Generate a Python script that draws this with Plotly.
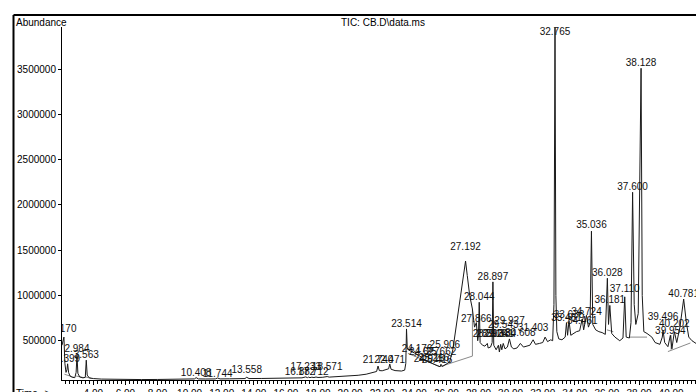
import plotly.graph_objects as go

# ---- chromatogram trace (retention time in min, abundance) ----
rt = [2.05, 2.17, 2.23, 2.30, 2.36, 2.40, 2.46, 2.55, 2.70, 2.85, 2.93, 2.984, 3.04, 3.15, 3.35, 3.50,
      3.563, 3.62, 3.75, 4.0, 4.5, 5.0, 6.0, 7.0, 8.0, 9.0, 10.0, 10.3, 10.408, 10.55, 11.0, 11.6,
      11.744, 11.9, 12.5, 13.0, 13.45, 13.558, 13.7, 14.5, 15.5, 16.5, 16.88, 17.0, 17.23, 17.35,
      17.41, 17.5, 17.615, 17.75, 17.874, 18.0, 18.3, 18.571, 18.7, 19.5, 20.0, 20.5, 21.0, 21.5,
      21.65, 21.74, 21.82, 22.0, 22.3, 22.40, 22.471, 22.55, 22.8, 23.0, 23.2, 23.4, 23.47, 23.514,
      23.56, 23.62, 23.8, 24.0, 24.17, 24.3, 24.47, 24.6, 24.85, 25.0, 25.2, 25.42, 25.6, 25.66,
      25.75, 25.906, 26.0, 26.2, 26.4, 26.6, 26.8, 27.0, 27.192, 27.3, 27.45, 27.62, 27.75, 27.866,
      27.95, 28.0, 28.044, 28.1, 28.25, 28.4, 28.55, 28.6, 28.75, 28.85, 28.897, 28.95, 29.1, 29.24,
      29.3, 29.38, 29.45, 29.54, 29.65, 29.8, 29.927, 30.05, 30.2, 30.4, 30.608, 30.8, 31.0, 31.2,
      31.403, 31.55, 31.8, 32.0, 32.15, 32.3, 32.5, 32.62, 32.70, 32.765, 32.82, 32.88, 33.0, 33.2,
      33.4, 33.481, 33.55, 33.638, 33.75, 33.9, 34.1, 34.3, 34.461, 34.55, 34.724, 34.85, 34.95,
      35.036, 35.12, 35.3, 35.5, 35.7, 35.9, 36.028, 36.1, 36.181, 36.3, 36.5, 36.8, 37.0, 37.110,
      37.2, 37.4, 37.5, 37.600, 37.7, 37.8, 37.95, 38.128, 38.2, 38.3, 38.5, 38.8, 39.0, 39.3, 39.45,
      39.496, 39.6, 39.8, 39.954, 40.05, 40.202, 40.35, 40.55, 40.781, 40.95, 41.1, 41.3, 41.55]
abundance = [450000, 540000, 250000, 150000, 180000, 245000, 150000, 110000, 95000, 92000, 150000,
             340000, 140000, 100000, 90000, 95000, 285000, 120000, 90000, 82000, 76000, 74000,
             72000, 71000, 72000, 74000, 76000, 78000, 92000, 78000, 77000, 78000, 88000, 78000,
             79000, 80000, 82000, 96000, 82000, 83000, 86000, 88000, 95000, 90000, 100000, 92000,
             98000, 92000, 97000, 93000, 99000, 94000, 96000, 104000, 98000, 105000, 110000, 118000,
             130000, 150000, 160000, 220000, 170000, 168000, 180000, 190000, 243000, 185000, 170000,
             165000, 165000, 175000, 250000, 630000, 420000, 400000, 380000, 365000, 350000, 335000,
             315000, 290000, 270000, 255000, 235000, 225000, 213000, 240000, 215000, 235000, 240000,
             265000, 400000, 650000, 900000, 1150000, 1380000, 1220000, 1000000, 850000, 650000,
             700000, 500000, 560000, 925000, 480000, 450000, 440000, 470000, 420000, 430000, 480000,
             1150000, 450000, 400000, 450000, 375000, 460000, 400000, 470000, 410000, 430000, 520000,
             430000, 410000, 420000, 470000, 430000, 440000, 450000, 510000, 460000, 470000, 480000,
             540000, 490000, 510000, 500000, 900000, 3960000, 1000000, 600000, 520000, 510000, 540000,
             700000, 560000, 720000, 560000, 580000, 600000, 610000, 740000, 620000, 780000, 650000,
             700000, 1710000, 680000, 620000, 600000, 590000, 570000, 1190000, 680000, 890000, 580000,
             540000, 500000, 530000, 985000, 540000, 530000, 700000, 2140000, 900000, 680000, 800000,
             3510000, 1000000, 600000, 580000, 540000, 480000, 460000, 540000, 615000, 480000,
             434000, 560000, 410000, 600000, 480000, 650000, 960000, 700000, 540000, 500000, 470000]

# ---- integration baseline segments (start rt, start abundance, end rt, end abundance) ----
seg_rt0 = [2.20, 2.93, 3.52, 25.60, 27.62, 23.60, 36.00, 37.40, 39.80, 40.00]
seg_ab0 = [130000, 110000, 100000, 213000, 330000, 360000, 620000, 540000, 380000, 400000]
seg_rt1 = [2.80, 3.40, 3.90, 27.62, 27.62, 25.60, 36.40, 38.50, 41.20, 40.00]
seg_ab1 = [95000, 92000, 82000, 330000, 850000, 213000, 600000, 540000, 475000, 560000]

# ---- peak labels (retention time text, label abundance) ----
label_text = ["2.170", "2.399", "2.984", "3.563", "10.408", "11.744", "13.558",
              "16.882", "17.233", "17.712", "18.571", "21.740", "22.471", "23.514",
              "24.176", "24.627", "24.915", "25.216", "25.416", "25.662", "25.906",
              "27.192", "27.866", "28.044", "28.897", "28.593", "28.816", "29.241", "29.384",
              "29.543", "29.927", "30.608", "31.403", "32.765", "33.481", "33.638", "34.461",
              "34.724", "35.036", "36.028", "36.181", "37.110", "37.600", "38.128", "39.496",
              "39.954", "40.202", "40.781"]
label_abundance = [629000, 298000, 408000, 342000, 143000, 132000, 166000,
                   150000, 199000, 150000, 199000, 276000, 287000, 684000,
                   408000, 370000, 298000, 309000, 287000, 375000, 442000,
                   1534000, 729000, 982000, 1198000, 574000, 574000, 574000, 574000,
                   673000, 717000, 585000, 640000, 3907000, 750000, 780000, 717000,
                   817000, 1777000, 1247000, 949000, 1071000, 2197000, 3565000, 762000,
                   607000, 684000, 1015000]

FONT = "Liberation Sans, Arial, sans-serif"

seg_x, seg_y = [], []
for a, b, c, d in zip(seg_rt0, seg_ab0, seg_rt1, seg_ab1):
    seg_x += [a, c, None]
    seg_y += [b, d, None]

fig = go.Figure()
fig.add_trace(go.Scatter(x=seg_x, y=seg_y, mode="lines",
                         line=dict(color="#8a8a8a", width=1), hoverinfo="skip"))
fig.add_trace(go.Scatter(x=rt, y=abundance, mode="lines",
                         line=dict(color="#1a1a1a", width=1)))
fig.add_trace(go.Scatter(x=[float(t) for t in label_text], y=label_abundance, mode="text",
                         text=label_text, textposition="middle center", cliponaxis=True,
                         textfont=dict(family=FONT, size=10, color="#111")))

fig.update_layout(
    width=696, height=392,
    margin=dict(l=62, r=0, t=27, b=12, autoexpand=False),
    paper_bgcolor="white", plot_bgcolor="white",
    showlegend=False,
    font=dict(family=FONT, size=10, color="black"),
)
fig.update_xaxes(range=[2.05, 41.55], showgrid=False, zeroline=False, automargin=False,
                 showline=True, linecolor="black", linewidth=1,
                 ticks="outside", ticklen=4, tickcolor="black",
                 tick0=0, dtick=2, tickformat=".2f",
                 minor=dict(ticks="outside", ticklen=3, dtick=0.25, tick0=0, tickcolor="black"),
                 tickfont=dict(family=FONT, size=10, color="black"))
fig.update_yaxes(range=[66000, 3966000], showgrid=False, zeroline=False, automargin=False,
                 showline=True, linecolor="black", linewidth=1,
                 ticks="outside", ticklen=3, tickcolor="black",
                 tick0=0, dtick=500000, tickformat="d",
                 tickfont=dict(family=FONT, size=10, color="black"))

# outer frame (left and top border)
fig.add_shape(type="line", xref="paper", yref="paper", x0=-0.0765, x1=1.0, y0=1.034, y1=1.034,
              line=dict(color="black", width=2))
fig.add_shape(type="line", xref="paper", yref="paper", x0=-0.0765, x1=-0.0765, y0=1.034, y1=-0.05,
              line=dict(color="black", width=2))

fig.add_annotation(text="Abundance", xref="paper", yref="paper", x=-0.0757, y=1.014,
                   xanchor="left", yanchor="middle", showarrow=False,
                   font=dict(family=FONT, size=10, color="black"))
fig.add_annotation(text="TIC: CB.D\\data.ms", xref="paper", yref="paper", x=0.506, y=1.014,
                   xanchor="center", yanchor="middle", showarrow=False,
                   font=dict(family=FONT, size=10, color="black"))
fig.add_annotation(text="Time-->", xref="paper", yref="paper", x=-0.0757, y=-0.017,
                   xanchor="left", yanchor="top", showarrow=False,
                   font=dict(family=FONT, size=10, color="black"))

fig.write_html("out.html", config={"displayModeBar": False},
               post_script="document.body.style.margin='0';document.body.style.overflow='hidden';")
